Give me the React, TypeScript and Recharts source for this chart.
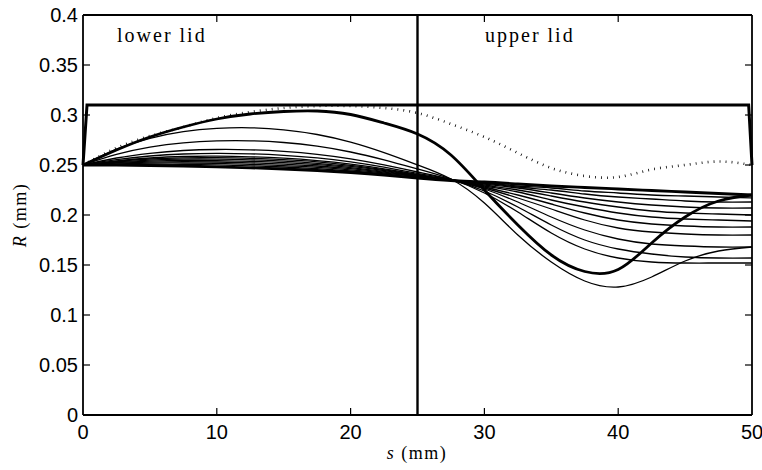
import React from 'react';
import { LineChart, Line, XAxis, YAxis, ReferenceLine } from 'recharts';

// arc position s (mm)
const sPos = [0, 2.5, 5, 7.5, 10, 12.5, 15, 17.5, 20, 22.5, 25, 27.5, 30, 32.5, 35, 37.5, 40, 42.5, 45, 47.5, 50];

// radius R (mm)
const rDotted = [0.25, 0.267, 0.279, 0.288, 0.297, 0.303, 0.307, 0.309, 0.309, 0.307, 0.302, 0.291, 0.278, 0.262, 0.247, 0.239, 0.238, 0.2455, 0.25, 0.2535, 0.25];
const rPeak = [0.25, 0.265, 0.278, 0.288, 0.296, 0.301, 0.3035, 0.304, 0.3005, 0.292, 0.281, 0.26, 0.225, 0.19, 0.16, 0.1435, 0.1455, 0.172, 0.198, 0.214, 0.22];
const rBase = [0.25, 0.2498, 0.2495, 0.249, 0.2482, 0.2472, 0.246, 0.2445, 0.2425, 0.24, 0.237, 0.2345, 0.233, 0.231, 0.229, 0.2275, 0.226, 0.2245, 0.223, 0.2215, 0.22];

const thinA = [0.25, 0.2658, 0.2767, 0.2834, 0.2866, 0.2872, 0.2852, 0.2805, 0.2729, 0.2624, 0.2502, 0.236, 0.212, 0.18, 0.153, 0.134, 0.128, 0.138, 0.154, 0.164, 0.168];
const thinB = [0.25, 0.2606, 0.2679, 0.2722, 0.2741, 0.2742, 0.2725, 0.2688, 0.263, 0.2551, 0.246, 0.236, 0.222, 0.203, 0.182, 0.166, 0.157, 0.153, 0.152, 0.152, 0.152];
const thinC = [0.25, 0.257, 0.2617, 0.2645, 0.2655, 0.2652, 0.2636, 0.2607, 0.2562, 0.2501, 0.243, 0.2355, 0.224, 0.208, 0.19, 0.175, 0.166, 0.161, 0.158, 0.157, 0.157];
const thinD = [0.25, 0.2554, 0.259, 0.261, 0.2616, 0.2612, 0.2597, 0.2571, 0.2531, 0.2478, 0.2416, 0.2355, 0.226, 0.213, 0.198, 0.185, 0.176, 0.171, 0.169, 0.168, 0.168];
const thinE = [0.25, 0.2542, 0.257, 0.2585, 0.2588, 0.2582, 0.2568, 0.2544, 0.2509, 0.2462, 0.2406, 0.235, 0.227, 0.217, 0.206, 0.195, 0.187, 0.183, 0.181, 0.18, 0.18];
const thinF = [0.25, 0.2536, 0.256, 0.2572, 0.2573, 0.2567, 0.2553, 0.2531, 0.2497, 0.2453, 0.24, 0.235, 0.228, 0.22, 0.211, 0.202, 0.195, 0.191, 0.189, 0.188, 0.188];
const thinG = [0.25, 0.253, 0.2549, 0.2559, 0.2559, 0.2552, 0.2538, 0.2517, 0.2486, 0.2445, 0.2396, 0.235, 0.229, 0.223, 0.215, 0.208, 0.202, 0.198, 0.196, 0.195, 0.194];
const thinH = [0.25, 0.2524, 0.2539, 0.2546, 0.2544, 0.2537, 0.2524, 0.2504, 0.2474, 0.2436, 0.239, 0.235, 0.23, 0.225, 0.219, 0.213, 0.208, 0.204, 0.202, 0.201, 0.2];
const thinI = [0.25, 0.2518, 0.2529, 0.2533, 0.253, 0.2522, 0.2509, 0.249, 0.2463, 0.2428, 0.2387, 0.235, 0.231, 0.227, 0.222, 0.217, 0.213, 0.21, 0.208, 0.207, 0.207];
const thinJ = [0.25, 0.2512, 0.2519, 0.252, 0.2516, 0.2507, 0.2494, 0.2477, 0.2452, 0.242, 0.2382, 0.235, 0.232, 0.228, 0.225, 0.221, 0.218, 0.216, 0.214, 0.213, 0.213];
const thinK = [0.25, 0.2506, 0.2509, 0.2507, 0.2501, 0.2492, 0.248, 0.2463, 0.244, 0.2411, 0.2377, 0.235, 0.232, 0.229, 0.227, 0.224, 0.222, 0.22, 0.219, 0.218, 0.217];

// the lid boundary (thick outline)
const lidS = [0, 0.3, 49.75, 50];
const lidR = [0.25, 0.31, 0.31, 0.25];

const xTicks = [0, 10, 20, 30, 40, 50];
const yTicks = [0, 0.05, 0.1, 0.15, 0.2, 0.25, 0.3, 0.35, 0.4];
const xDomain = [0, 50];
const yDomain = [0, 0.4];

const thinSeries = [thinA, thinB, thinC, thinD, thinE, thinF, thinG, thinH, thinI, thinJ, thinK];

const rows = sPos.map((s, i) => {
  const row: any = { s, dotted: rDotted[i], peak: rPeak[i], base: rBase[i] };
  thinSeries.forEach((arr, k) => {
    row['t' + k] = arr[i];
  });
  return row;
});

const lidRows = lidS.map((s, i) => ({ s, r: lidR[i] }));

const sans = '"Liberation Sans", Arial, sans-serif';
const serif = '"Liberation Serif", "Times New Roman", serif';

// chart layout
const W = 762;
const H = 470;
const M = { top: 15, right: 10, bottom: 0, left: 0 };
const Y_AXIS_W = 83;
const X_AXIS_H = 55;
const PLOT_X = M.left + Y_AXIS_W;
const PLOT_Y = M.top;
const PLOT_W = W - M.left - M.right - Y_AXIS_W;
const PLOT_H = H - M.top - M.bottom - X_AXIS_H;
const TICK = 7;

// same linear mapping the axes use, only for the inward tick marks
const tx = (v: number) => PLOT_X + ((v - xDomain[0]) / (xDomain[1] - xDomain[0])) * PLOT_W;
const ty = (v: number) => PLOT_Y + ((yDomain[1] - v) / (yDomain[1] - yDomain[0])) * PLOT_H;

const BottomTick = (p: any) => (
  <text x={p.x} y={p.y} dy="0.71em" textAnchor="middle" fontFamily={sans} fontSize={20} fill="#000">
    {p.payload.value}
  </text>
);

const LeftTick = (p: any) => (
  <text x={p.x} y={p.y} dy="0.36em" textAnchor="end" fontFamily={sans} fontSize={20} fill="#000">
    {p.payload.value}
  </text>
);

// matlab box: ticks point inward on all four sides
const InwardTicks = () => (
  <svg width={W} height={H} style={{ position: 'absolute', left: 0, top: 0, pointerEvents: 'none' }}>
    {xTicks.slice(1, -1).map((t) => (
      <g key={'x' + t}>
        <line x1={tx(t)} x2={tx(t)} y1={PLOT_Y + PLOT_H} y2={PLOT_Y + PLOT_H - TICK} stroke="#000" strokeWidth={1.2} />
        <line x1={tx(t)} x2={tx(t)} y1={PLOT_Y} y2={PLOT_Y + TICK} stroke="#000" strokeWidth={1.2} />
      </g>
    ))}
    {yTicks.slice(1, -1).map((t) => (
      <g key={'y' + t}>
        <line x1={PLOT_X} x2={PLOT_X + TICK} y1={ty(t)} y2={ty(t)} stroke="#000" strokeWidth={1.2} />
        <line x1={PLOT_X + PLOT_W} x2={PLOT_X + PLOT_W - TICK} y1={ty(t)} y2={ty(t)} stroke="#000" strokeWidth={1.2} />
      </g>
    ))}
  </svg>
);

export default function App() {
  return (
    <div style={{ position: 'absolute', left: 0, top: 0, width: W, height: H, background: '#fff' }}>
      <LineChart width={W} height={H} data={rows} margin={M}>
        <XAxis
          dataKey="s"
          type="number"
          domain={xDomain}
          ticks={xTicks}
          height={X_AXIS_H}
          tickSize={0}
          tickMargin={10}
          tickLine={false}
          tick={<BottomTick />}
          stroke="#000"
          strokeWidth={1.8}
        />
        <YAxis
          type="number"
          domain={yDomain}
          ticks={yTicks}
          width={Y_AXIS_W}
          tickSize={0}
          tickMargin={5}
          tickLine={false}
          tick={<LeftTick />}
          stroke="#000"
          strokeWidth={1.8}
        />
        {/* box top and right edges */}
        <ReferenceLine y={0.4} stroke="#000" strokeWidth={1.8} ifOverflow="visible" />
        <ReferenceLine x={50} stroke="#000" strokeWidth={1.8} ifOverflow="visible" />
        <ReferenceLine x={25} stroke="#000" strokeWidth={2.4} />
        {thinSeries.map((_, k) => (
          <Line
            key={k}
            dataKey={'t' + k}
            type="natural"
            stroke="#000"
            strokeWidth={1.3}
            dot={false}
            activeDot={false}
            isAnimationActive={false}
          />
        ))}
        <Line dataKey="base" type="natural" stroke="#000" strokeWidth={2.8} dot={false} activeDot={false} isAnimationActive={false} />
        <Line dataKey="peak" type="natural" stroke="#000" strokeWidth={2.8} dot={false} activeDot={false} isAnimationActive={false} />
        <Line dataKey="dotted" type="natural" stroke="#000" strokeWidth={2.6} strokeDasharray="0.8 5.2" dot={false} activeDot={false} isAnimationActive={false} />
        <Line data={lidRows} dataKey="r" type="linear" stroke="#000" strokeWidth={3} dot={false} activeDot={false} isAnimationActive={false} />
      </LineChart>
      <InwardTicks />
      <div style={{ position: 'absolute', left: 117, top: 23, fontFamily: serif, fontSize: 20, letterSpacing: 2, lineHeight: '24px', whiteSpace: 'nowrap' }}>
        lower lid
      </div>
      <div style={{ position: 'absolute', left: 485, top: 23, fontFamily: serif, fontSize: 20, letterSpacing: 2, lineHeight: '24px', whiteSpace: 'nowrap' }}>
        upper lid
      </div>
      <div style={{ position: 'absolute', left: 317, width: 200, textAlign: 'center', top: 441, fontFamily: serif, fontSize: 18, letterSpacing: 1.5, lineHeight: '24px', whiteSpace: 'nowrap' }}>
        <i>s</i> (mm)
      </div>
      <div style={{ position: 'absolute', left: 20, top: 215, width: 0, height: 0 }}>
        <div style={{ position: 'absolute', left: -100, top: -12, width: 200, textAlign: 'center', transform: 'rotate(-90deg)', fontFamily: serif, fontSize: 18, letterSpacing: 1.5, lineHeight: '24px', whiteSpace: 'nowrap' }}>
          <i>R</i> (mm)
        </div>
      </div>
    </div>
  );
}
